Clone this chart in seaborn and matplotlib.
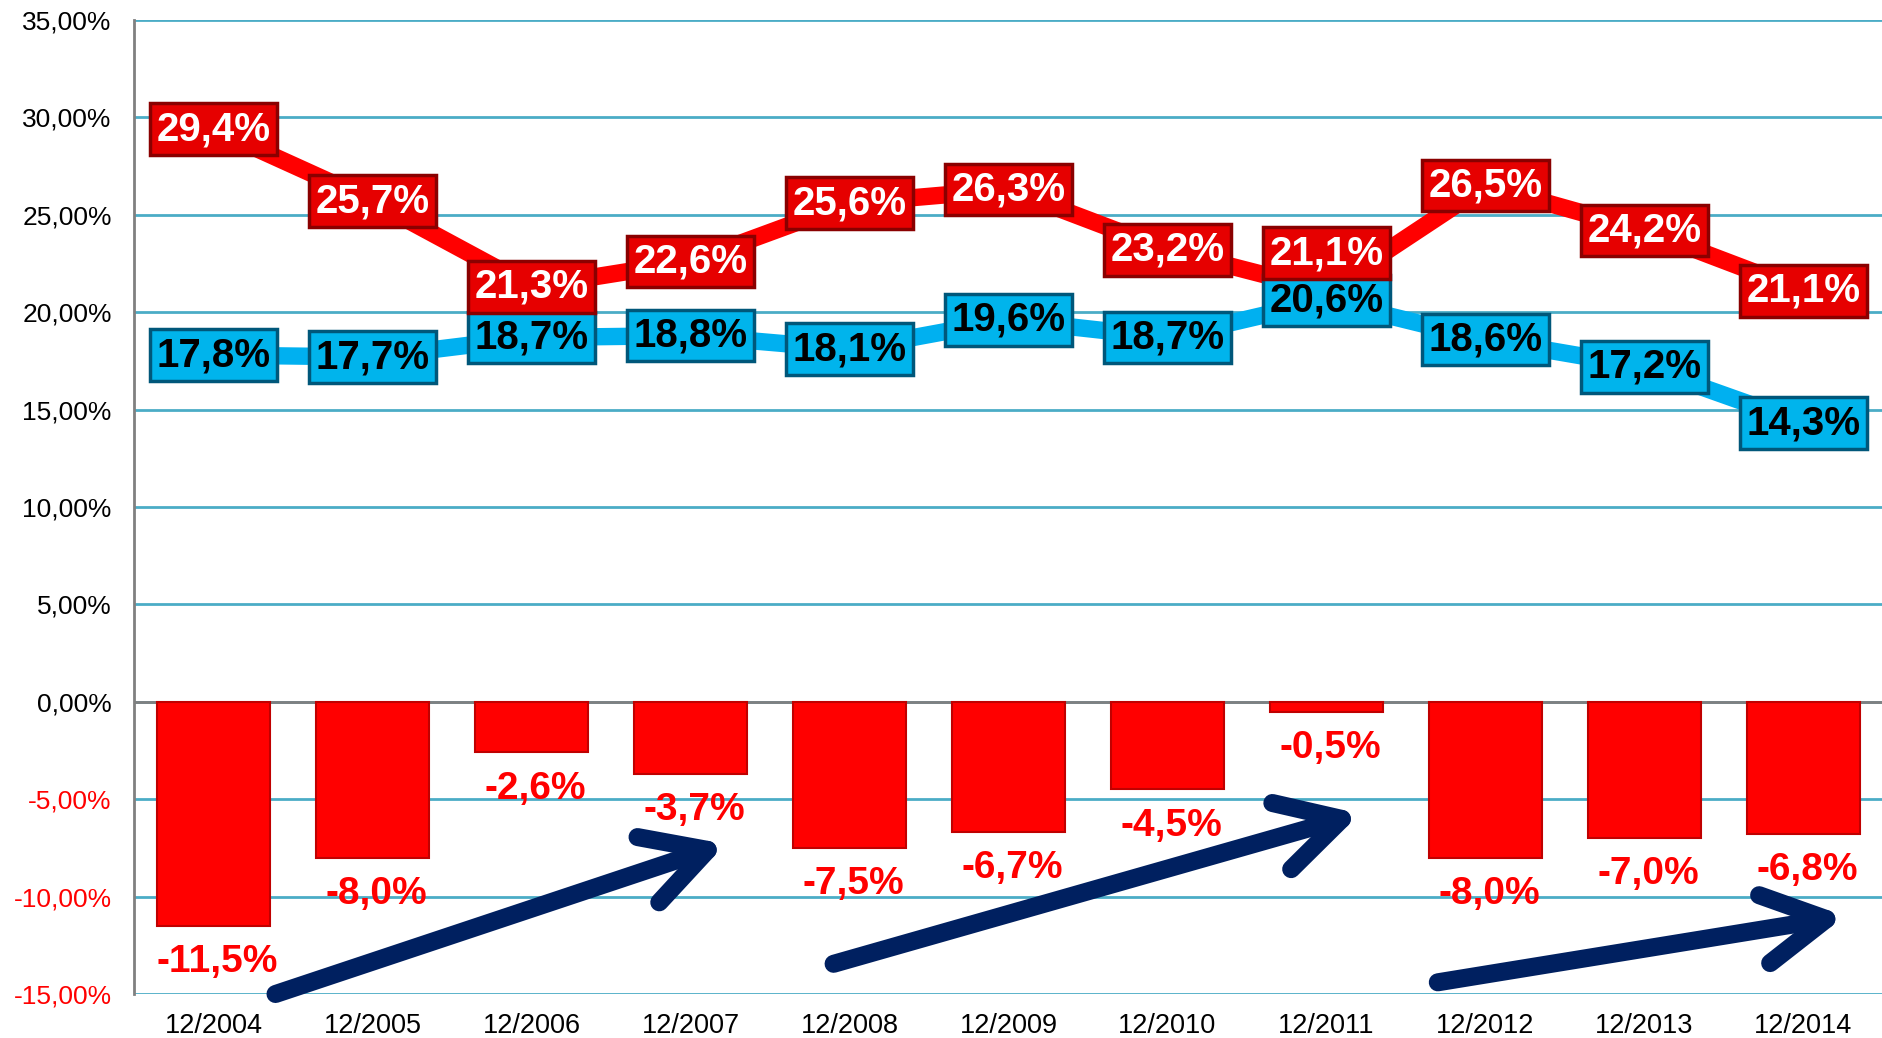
import numpy as np
import pandas as pd
import matplotlib
matplotlib.use("Agg")
import matplotlib.pyplot as plt
import seaborn as sns

# ---- data ----
periods = ["12/2004", "12/2005", "12/2006", "12/2007", "12/2008", "12/2009",
           "12/2010", "12/2011", "12/2012", "12/2013", "12/2014"]
red_series = [29.4, 25.7, 21.3, 22.6, 25.6, 26.3, 23.2, 21.1, 26.5, 24.2, 21.1]
blue_series = [17.8, 17.7, 18.7, 18.8, 18.1, 19.6, 18.7, 20.6, 18.6, 17.2, 14.3]
gap_bars = [-11.5, -8.0, -2.6, -3.7, -7.5, -6.7, -4.5, -0.5, -8.0, -7.0, -6.8]
y_ticks = [-15, -10, -5, 0, 5, 10, 15, 20, 25, 30, 35]
# trend arrows (start x, start y, end x, end y) in category / percent units
trend_arrows = [(0.39, -15.0, 3.22, -7.3),
                (3.90, -13.45, 7.21, -5.75),
                (7.70, -14.4, 10.26, -11.0)]

# ---- style ----
sns.set_style("white")
plt.rcParams["font.family"] = ["Liberation Sans", "DejaVu Sans"]

RED = "#ff0000"
BLUE_LINE = "#00b0f0"
GRID = "#4bacc6"
NAVY = "#002060"

fig = plt.figure(figsize=(18.83, 10.38), dpi=100)
ax = fig.add_axes([134 / 1883, 1 - 994 / 1038, 1 - 134 / 1883, (994 - 20) / 1038])

df = pd.DataFrame({"period": periods, "gap": gap_bars})
sns.barplot(data=df, x="period", y="gap", color=RED, saturation=1, width=0.71,
            edgecolor="#c00000", linewidth=1.5, ax=ax, zorder=3)

xpos = np.arange(len(periods))
sns.lineplot(x=xpos, y=red_series, color=RED, linewidth=12.5, sort=False, ax=ax, zorder=4)
sns.lineplot(x=xpos, y=blue_series, color=BLUE_LINE, linewidth=12.5, sort=False, ax=ax, zorder=4)

ax.set_xlim(-0.5, len(periods) - 0.5)
ax.set_ylim(-15, 35)
ax.set_xlabel("")
ax.set_ylabel("")

# grid & spines
ax.set_yticks(y_ticks)
ax.set_yticklabels([f"{t:.2f}".replace(".", ",") + "%" for t in y_ticks])
for lbl, t in zip(ax.get_yticklabels(), y_ticks):
    lbl.set_color(RED if t < 0 else "black")
ax.yaxis.grid(True, color=GRID, linewidth=2)
ax.xaxis.grid(False)
ax.set_axisbelow(True)
ax.axhline(0, color="#808080", linewidth=2, zorder=2.5)
for s in ["top", "right", "bottom"]:
    ax.spines[s].set_visible(False)
ax.spines["left"].set_color("#808080")
ax.spines["left"].set_linewidth(2)
ax.tick_params(axis="y", length=0, pad=16, labelsize=19)
ax.tick_params(axis="x", length=0, pad=14, labelsize=19.5, labelcolor="black")

# line labels
red_offsets = [0, 0, 0, 0, 0, 0, 0, 27, 0, 0, 0]
for i, v in enumerate(red_series):
    ax.annotate(f"{v:.1f}".replace(".", ",") + "%", (xpos[i], v),
                xytext=(0, red_offsets[i]), textcoords="offset points",
                ha="center", va="center", fontsize=29, fontweight="bold", color="white",
                bbox=dict(boxstyle="square,pad=0.17", fc="#e60000", ec="#8a0000", lw=2.5),
                zorder=6)
for i, v in enumerate(blue_series):
    ax.annotate(f"{v:.1f}".replace(".", ",") + "%", (xpos[i], v),
                ha="center", va="center", fontsize=29, fontweight="bold", color="black",
                bbox=dict(boxstyle="square,pad=0.17", fc="#00b4ec", ec="#00577a", lw=2.5),
                zorder=5)

# bar labels
for i, v in enumerate(gap_bars):
    ax.annotate(f"{v:.1f}".replace(".", ",") + "%", (xpos[i], v),
                xytext=(3, -26), textcoords="offset points",
                ha="center", va="center", fontsize=28, fontweight="bold", color=RED,
                zorder=7)

# trend arrows
for x0, y0, x1, y1 in trend_arrows:
    ax.annotate("", xy=(x1, y1), xytext=(x0, y0),
                arrowprops=dict(arrowstyle="->,head_length=1.0,head_width=0.55",
                                color=NAVY, lw=13, mutation_scale=45,
                                shrinkA=0, shrinkB=0, capstyle="round",
                                joinstyle="round"),
                zorder=8, annotation_clip=False)

fig.savefig("out.png", dpi=100)
